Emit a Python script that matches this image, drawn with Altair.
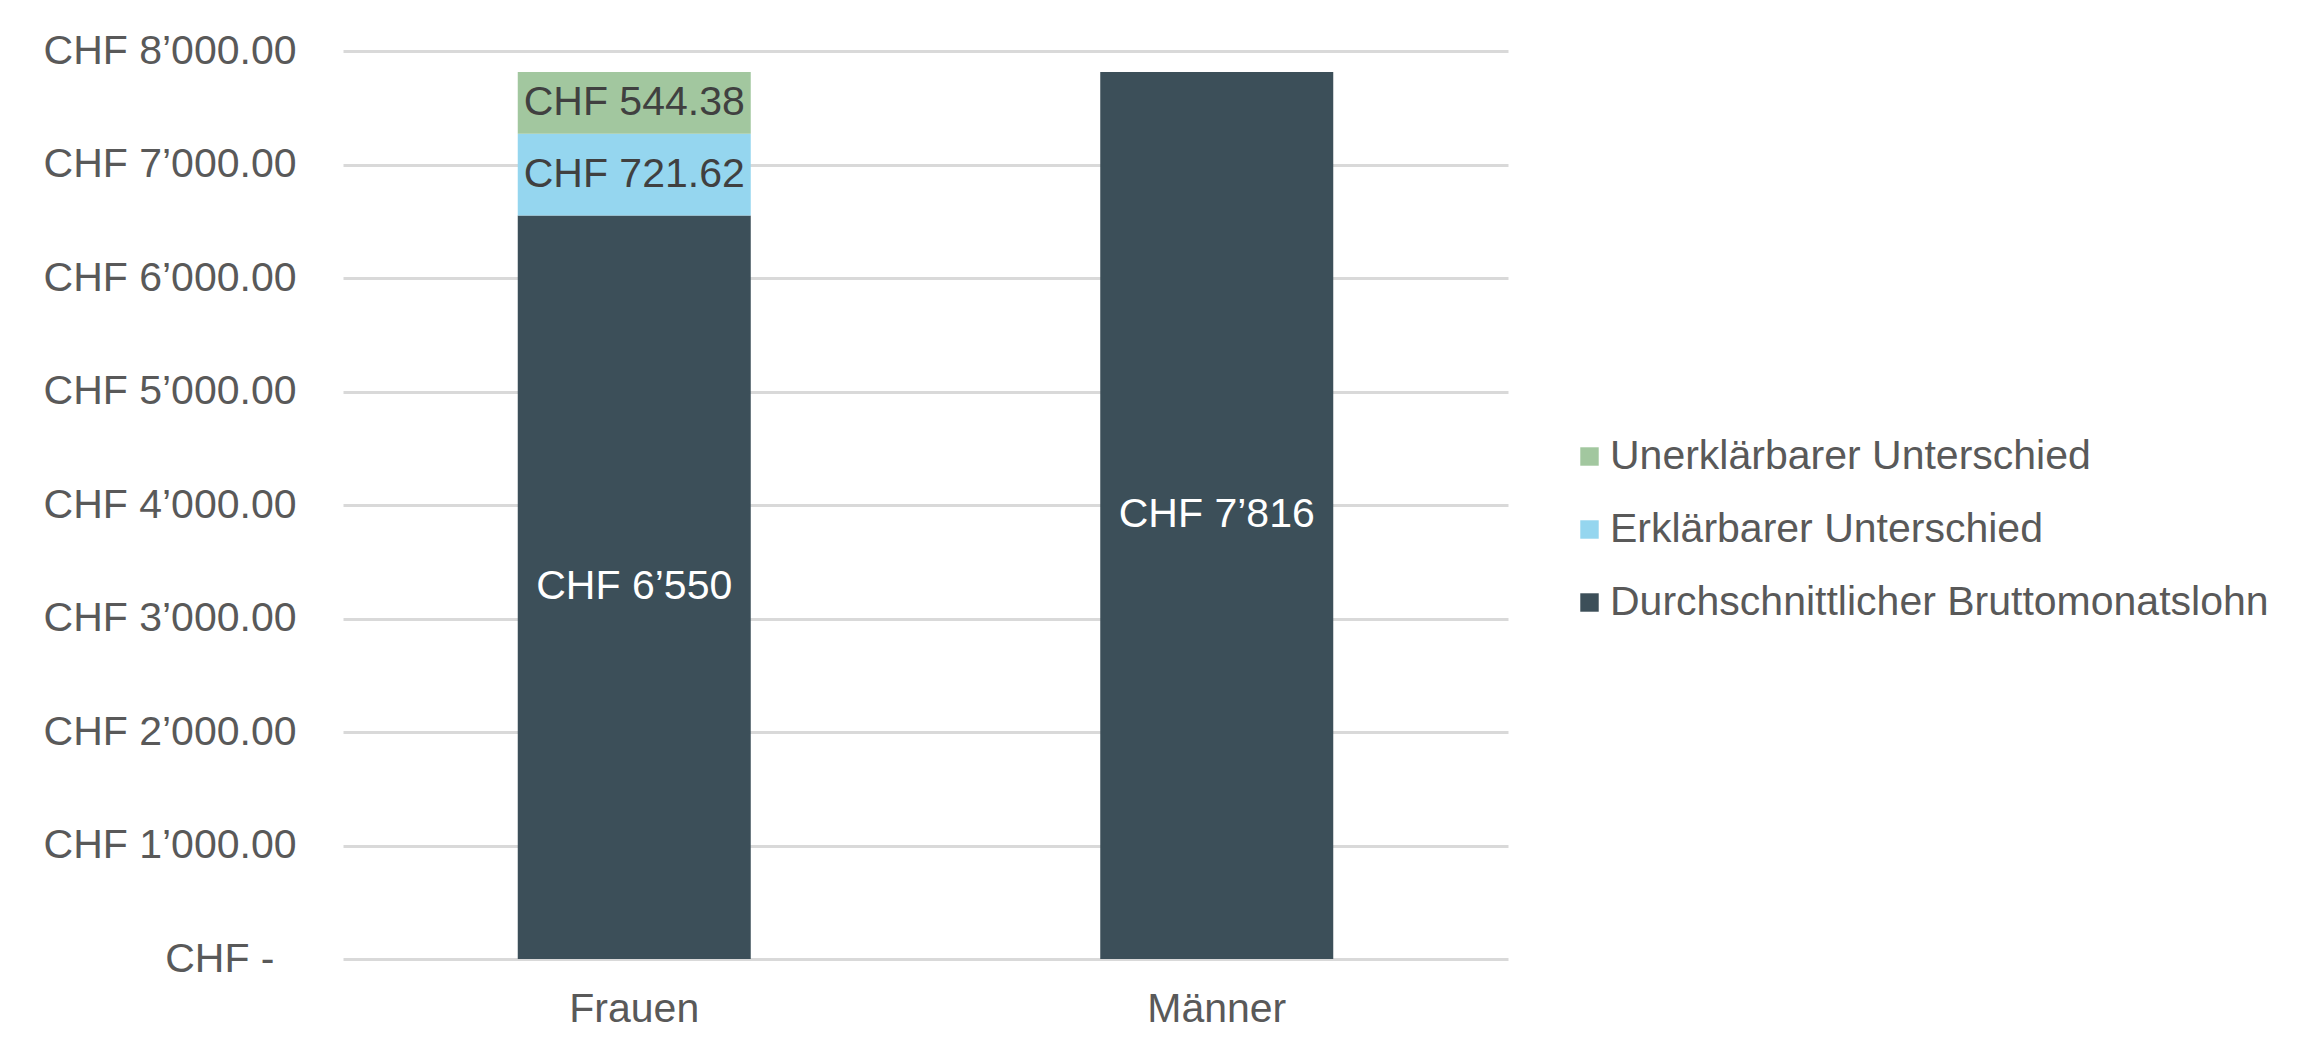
import altair as alt
import pandas as pd

GROUPS = ["Frauen", "Männer"]
PARTS = [
    "Durchschnittlicher Bruttomonatslohn",
    "Erklärbarer Unterschied",
    "Unerklärbarer Unterschied",
]
COLORS = ["#3C4F59", "#95D6EF", "#A2C79F"]
FRAUEN = [6550, 721.62, 544.38]
MAENNER = [7816]
Y_TICKS = [0, 1000, 2000, 3000, 4000, 5000, 6000, 7000, 8000]

FONT = "Liberation Sans"
TEXT = "#595959"
GRID = "#D9D9D9"
SIZE = 41


def chf(v: float, decimals: int) -> str:
    s = f"{v:,.{decimals}f}".replace(",", "\u2019")
    return f"CHF {s}"


rows = []
for group, values in zip(GROUPS, [FRAUEN, MAENNER]):
    for i, v in enumerate(values):
        rows.append(
            {
                "group": group,
                "part": PARTS[i],
                "order": i,
                "value": v,
                "label": chf(v, 0 if i == 0 else 2),
            }
        )
df = pd.DataFrame(rows)

label_expr = (
    "datum.value == 0 ? 'CHF -' : "
    "'CHF ' + replace(format(datum.value, ',.2f'), ',', '\u2019')"
)

base = (
    alt.Chart(df)
    .transform_stack(
        stack="value",
        as_=["y0", "y1"],
        groupby=["group"],
        sort=[alt.SortField("order", order="ascending")],
    )
    .transform_calculate(mid="(datum.y0 + datum.y1) / 2")
)

x_enc = alt.X(
    "group:N",
    sort=GROUPS,
    scale=alt.Scale(paddingInner=0.6, paddingOuter=0.3),
    axis=alt.Axis(
        title=None,
        labelAngle=0,
        ticks=False,
        domain=False,
        labelPadding=30,
        labelFontSize=SIZE,
        labelColor=TEXT,
        labelFont=FONT,
        labelLimit=0,
    ),
)

bars = base.mark_bar().encode(
    x=x_enc,
    y=alt.Y(
        "y0:Q",
        scale=alt.Scale(domain=[0, 8000], nice=False),
        axis=alt.Axis(
            title=None,
            values=Y_TICKS,
            labelExpr=label_expr,
            grid=True,
            gridColor=GRID,
            gridWidth=3,
            domain=False,
            ticks=False,
            # accounting style: the zero label sits a bit further left
            labelPadding={"condition": {"test": "datum.value == 0", "value": 69}, "value": 47},
            labelFontSize=SIZE,
            labelColor=TEXT,
            labelFont=FONT,
            labelLimit=0,
        ),
    ),
    y2="y1:Q",
    color=alt.Color(
        "part:N",
        scale=alt.Scale(domain=PARTS[::-1], range=COLORS[::-1]),
        legend=alt.Legend(
            title=None,
            orient="none",
            legendX=1226,
            legendY=385,
            symbolType="square",
            symbolSize=340,
            symbolStrokeWidth=0,
            labelFontSize=SIZE,
            labelColor=TEXT,
            labelFont=FONT,
            labelLimit=0,
            labelOffset=0,
            rowPadding=31,
            padding=0,
        ),
    ),
)

labels = base.mark_text(fontSize=SIZE, font=FONT).encode(
    x=alt.X("group:N", sort=GROUPS),
    y=alt.Y("mid:Q"),
    text="label:N",
    color=alt.when(alt.datum.order == 0)
    .then(alt.value("white"))
    .otherwise(alt.value("#404040")),
)

chart = (
    alt.layer(bars, labels)
    .properties(
        width=1165,
        height=908,
        padding={"left": 35, "top": 22, "right": 5, "bottom": 5},
    )
    .configure(font=FONT)
    .configure_view(strokeWidth=0, stroke=None)
)

chart.save("out.html", embed_options={"renderer": "svg", "actions": False})
